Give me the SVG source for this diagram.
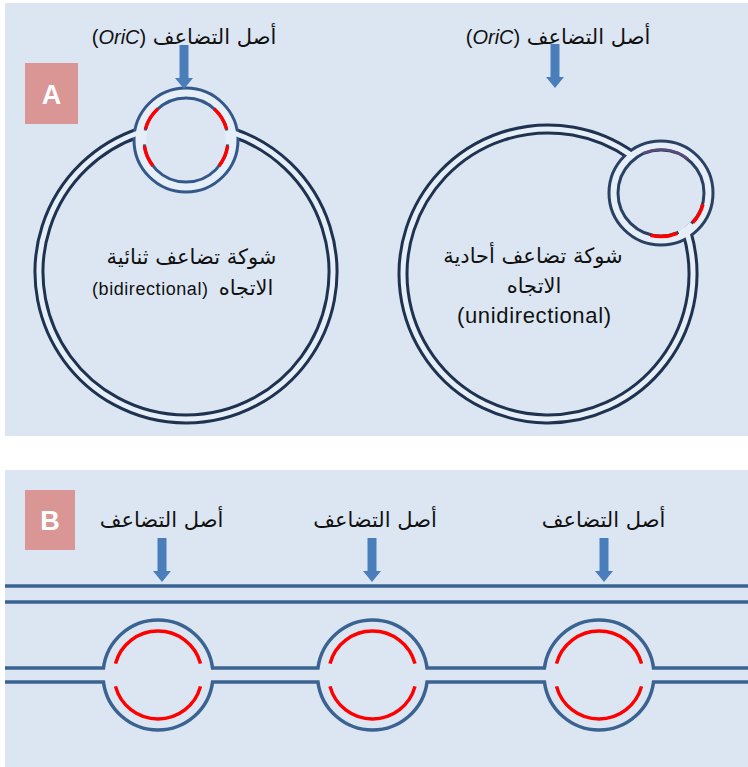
<svg xmlns="http://www.w3.org/2000/svg" width="748" height="767" viewBox="0 0 748 767">
  <style>
    .panel { fill: #dce6f2; }
    .tag { fill: #d99694; }
    .tagtxt { font-family: "Liberation Sans", "DejaVu Sans", sans-serif; font-weight: bold; font-size: 27px; fill: #ffffff; text-anchor: middle; }
    .lbl { font-family: "Liberation Sans", "DejaVu Sans", sans-serif; font-size: 18px; fill: #111111; text-anchor: middle; }
    .ar { font-family: "DejaVu Sans", sans-serif; font-size: 21px; fill: #111111; text-anchor: middle; }
    .big-dark { fill: none; stroke: #1f3350; stroke-width: 11; }
    .big-light { fill: none; stroke: #e6eef8; stroke-width: 5; }
    .ring-dark-l { fill: none; stroke: #34588a; stroke-width: 13; }
    .ring-light-l { fill: none; stroke: #e6eef8; stroke-width: 7; }
    .ring-dark-r { fill: none; stroke: #2a4163; stroke-width: 12; }
    .ring-light-r { fill: none; stroke: #e6eef8; stroke-width: 6; }
    .gap { fill: none; stroke: #e6eef8; stroke-width: 4.5; }
    .new { fill: none; stroke: #ff0000; stroke-width: 3.5; }
    .dna { fill: none; stroke: #3b6392; stroke-width: 3.5; }
    .arrow { fill: #4a7ebb; }
  </style>
  <defs>
    <!-- downward block arrow, tip at the origin -->
    <path id="down-arrow" d="M -4.5 -44 H 4.5 V -11 H 9 L 0 0 L -9 -11 H -4.5 Z"/>
  </defs>

  <rect width="748" height="767" fill="#ffffff"/>

  <!-- Panel A: circular chromosome -->
  <g id="panel-a">
    <rect class="panel" x="5" y="3" width="743" height="433"/>
    <rect class="tag" x="25" y="63" width="53" height="61"/>
    <text class="tagtxt" x="51.5" y="104">A</text>
  </g>

  <!-- Bidirectional replication circle -->
  <g id="bidirectional">
    <path class="big-dark" d="M 139.6 132.5 A 147 147 0 1 0 232.4 132.5"/>
    <circle class="ring-dark-l" cx="186" cy="140" r="47"/>
    <path class="big-light" d="M 139.6 132.5 A 147 147 0 1 0 232.4 132.5"/>
    <circle class="ring-light-l" cx="186" cy="140" r="47"/>
    <path class="gap" d="M 145.08 130.55 A 42 42 0 0 0 144.23 144.39"/>
    <path class="gap" d="M 226.92 130.55 A 42 42 0 0 1 227.77 144.39"/>
    <path class="new" d="M 157.90 108.79 A 42 42 0 0 0 145.43 129.13"/>
    <path class="new" d="M 144.41 145.85 A 42 42 0 0 0 152.90 165.86"/>
    <path class="new" d="M 214.10 108.79 A 42 42 0 0 1 226.57 129.13"/>
    <path class="new" d="M 227.59 145.85 A 42 42 0 0 1 219.10 165.86"/>
    <text class="ar" x="191.5" y="264">شوكة تضاعف ثنائية</text>
    <text class="ar" x="246" y="295">الاتجاه</text>
    <text class="lbl" x="150" y="295" textLength="116">(bidirectional)</text>
  </g>

  <!-- Unidirectional replication circle -->
  <g id="unidirectional">
    <path class="big-dark" d="M 631.8 155.6 A 145 145 0 1 0 687.0 232.6"/>
    <circle class="ring-dark-r" cx="661" cy="193" r="47.5"/>
    <path class="big-light" d="M 631.8 155.6 A 145 145 0 1 0 687.0 232.6"/>
    <circle class="ring-light-r" cx="661" cy="193" r="47.5"/>
    <path class="gap" d="M 691.76 223.76 A 43.5 43.5 0 0 1 678.69 232.74"/>
    <path fill="none" stroke="#5f4b7a" stroke-width="2.5" d="M 643.31 153.26 A 43.5 43.5 0 0 1 687.78 158.72"/>
    <path class="new" d="M 703.02 204.26 A 43.5 43.5 0 0 1 692.81 222.67"/>
    <path class="new" d="M 677.30 233.33 A 43.5 43.5 0 0 1 650.48 235.21"/>
    <text class="ar" x="533" y="263">شوكة تضاعف أحادية</text>
    <text class="ar" x="534" y="293">الاتجاه</text>
    <text class="lbl" x="534" y="323" style="font-size:22px" textLength="154">(unidirectional)</text>
  </g>

  <!-- Origin labels, panel A -->
  <g id="origin-a-left">
    <text class="ar" x="214.5" y="44">أصل التضاعف</text>
    <text class="lbl" x="119" y="44" style="font-size:20px">(<tspan font-style="italic">OriC</tspan>)</text>
  </g>
  <g id="origin-a-right">
    <text class="ar" x="588.5" y="44">أصل التضاعف</text>
    <text class="lbl" x="493" y="44" style="font-size:20px">(<tspan font-style="italic">OriC</tspan>)</text>
  </g>

  <!-- Panel B: linear chromosome with several origins -->
  <g id="panel-b">
    <rect class="panel" x="5" y="470" width="743" height="297"/>
    <rect class="tag" x="25" y="490" width="50" height="60"/>
    <text class="tagtxt" x="50" y="530">B</text>
  </g>

  <g id="linear-dna">
    <line class="dna" x1="5" y1="586" x2="748" y2="586"/>
    <line class="dna" x1="5" y1="602" x2="748" y2="602"/>
    <path class="dna" d="M 5 668 H 103.45 A 55 55 0 0 1 212.55 668 H 317.95 A 55 55 0 0 1 427.05 668 H 544.45 A 55 55 0 0 1 653.55 668 H 748"/>
    <path class="dna" d="M 5 682 H 103.45 A 55 55 0 0 0 212.55 682 H 317.95 A 55 55 0 0 0 427.05 682 H 544.45 A 55 55 0 0 0 653.55 682 H 748"/>
  </g>

  <g id="bubble-1">
    <path class="new" d="M 115.5 663.61 A 44 44 0 0 1 200.5 663.61"/>
    <path class="new" d="M 115.5 686.39 A 44 44 0 0 0 200.5 686.39"/>
  </g>
  <g id="bubble-2">
    <path class="new" d="M 330 663.61 A 44 44 0 0 1 415 663.61"/>
    <path class="new" d="M 330 686.39 A 44 44 0 0 0 415 686.39"/>
  </g>
  <g id="bubble-3">
    <path class="new" d="M 556.5 663.61 A 44 44 0 0 1 641.5 663.61"/>
    <path class="new" d="M 556.5 686.39 A 44 44 0 0 0 641.5 686.39"/>
  </g>

  <g id="origin-b-1"><text class="ar" x="161.5" y="527">أصل التضاعف</text></g>
  <g id="origin-b-2"><text class="ar" x="375" y="527">أصل التضاعف</text></g>
  <g id="origin-b-3"><text class="ar" x="603.5" y="527">أصل التضاعف</text></g>

  <!-- Origin arrows -->
  <g id="connectors" class="arrow">
    <use href="#down-arrow" x="184" y="89"/>
    <use href="#down-arrow" x="555" y="88"/>
    <use href="#down-arrow" x="162" y="582"/>
    <use href="#down-arrow" x="372" y="582"/>
    <use href="#down-arrow" x="604" y="582"/>
  </g>
</svg>
